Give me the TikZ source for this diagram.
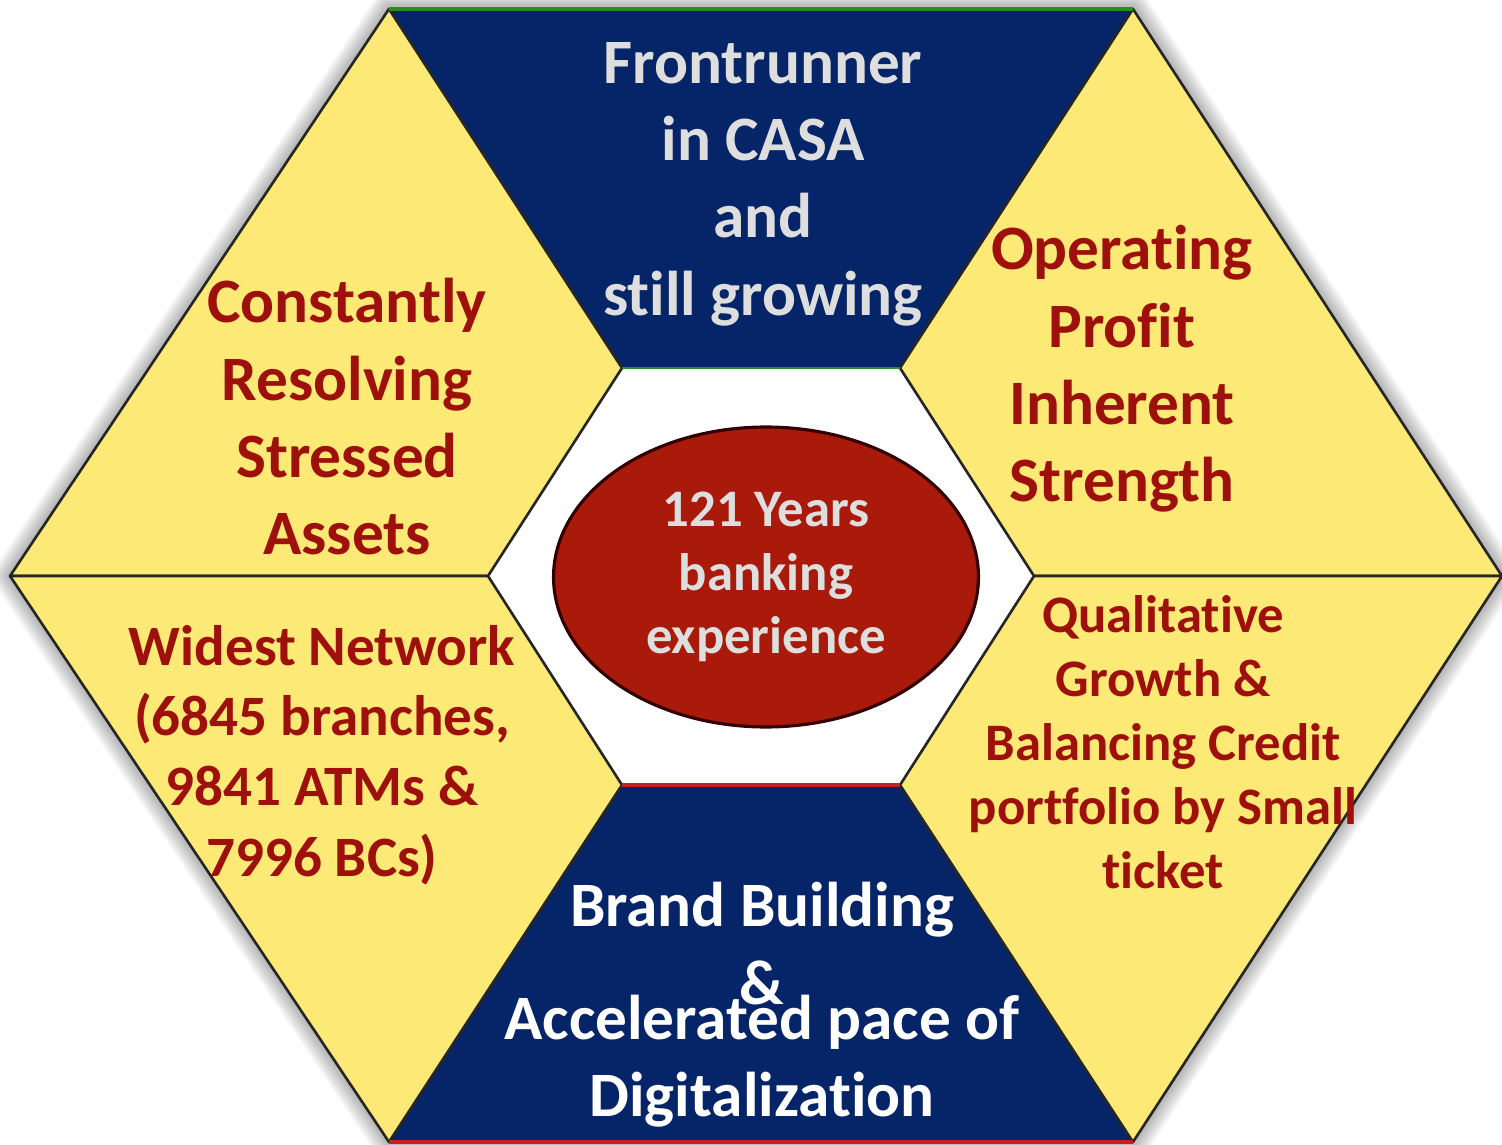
\documentclass[tikz,border=0pt]{standalone}
\usepackage{fontspec}
\setmainfont{Carlito}[Ligatures=NoCommon]
\usetikzlibrary{positioning, calc, shapes.geometric}

\definecolor{hexyellow}{RGB}{253,233,118}
\definecolor{hexblue}{RGB}{6,36,104}
\definecolor{textred}{RGB}{158,16,12}
\definecolor{ovalred}{RGB}{170,26,10}
\definecolor{textgrey}{RGB}{222,222,222}
\definecolor{edgegreen}{RGB}{40,140,30}
\definecolor{edgered}{RGB}{200,30,30}

\begin{document}
\begin{tikzpicture}[x=0.02cm, y=-0.02cm,
    yellowpart/.style={fill=hexyellow, draw=black!85, line width=1.5pt, line join=round},
    bluepart/.style={fill=hexblue},
    bigred/.style={text=textred, align=center, font=\bfseries\fontsize{36}{44}\selectfont},
    midred/.style={text=textred, align=center, font=\bfseries\fontsize{32.5}{40}\selectfont},
    smallred/.style={text=textred, align=center, font=\bfseries\fontsize{30}{36.5}\selectfont},
    bluetext/.style={text=textgrey, align=center, font=\bfseries\fontsize{36}{44}\selectfont},
    oval/.style={ellipse, fill=ovalred, draw=black!80!red, line width=1.8pt,
        minimum width=8.5cm, minimum height=6cm, text=textgrey, align=center,
        font=\bfseries\fontsize{30}{36}\selectfont}]
    \useasboundingbox[fill=white] (0,0) rectangle (1502,1145);

    % outer hexagon
    \coordinate (otl) at (389,9);
    \coordinate (otr) at (1133,9);
    \coordinate (or) at (1502,576);
    \coordinate (obr) at (1133,1142);
    \coordinate (obl) at (389,1142);
    \coordinate (ol) at (10,576);
    % inner hexagon
    \coordinate (itl) at (622,368);
    \coordinate (itr) at (900,368);
    \coordinate (ir) at (1034,576);
    \coordinate (ibr) at (900,785);
    \coordinate (ibl) at (622,785);
    \coordinate (il) at (488,576);

    % soft shadow
    \foreach \w in {2,...,9}
        \draw[black, opacity=0.035, line width=\w*2.2pt, line join=round]
            (otl) -- (otr) -- (or) -- (obr) -- (obl) -- (ol) -- cycle;

    \fill[bluepart] (otl) -- (otr) -- (itr) -- (itl) -- cycle;
    \fill[bluepart] (ibl) -- (ibr) -- (obr) -- (obl) -- cycle;
    \filldraw[yellowpart] (otl) -- (itl) -- (il) -- (ol) -- cycle;
    \filldraw[yellowpart] (otr) -- (or) -- (ir) -- (itr) -- cycle;
    \filldraw[yellowpart] (ol) -- (il) -- (ibl) -- (obl) -- cycle;
    \filldraw[yellowpart] (ir) -- (or) -- (obr) -- (ibr) -- cycle;
    \draw[edgegreen, line width=2pt] (otl) -- (otr);
    \draw[edgegreen, line width=1.5pt] (itl) -- (itr);
    \draw[edgered, line width=2pt] (ibl) -- (ibr);
    \draw[edgered, line width=2.5pt] (obl) -- (obr);

    \node[oval] (core) at (766,577) {121 Years\\ banking\\experience};

    \node[bluetext] (casa) at (763,184) {Frontrunner\\in CASA\\and\\still growing};
    \node[bigred] (assets) at (347,417) {Constantly\\Resolving\\Stressed\\Assets};
    \node[bigred] (profit) at (1122,369) {Operating\\Profit\\Inherent\\Strength};
    \node[midred] (network) at (322,755) {Widest Network\\(6845 branches,\\9841 ATMs \&\\7996 BCs)};
    \node[smallred] (credit) at (1163,742) {Qualitative\\Growth \&\\Balancing Credit\\portfolio by Small\\ticket};
    \node[bluetext, text=white] (brand) at (762,1005) {Brand Building\\\&\\[-24pt]Accelerated pace of\\Digitalization};
\end{tikzpicture}
\end{document}
